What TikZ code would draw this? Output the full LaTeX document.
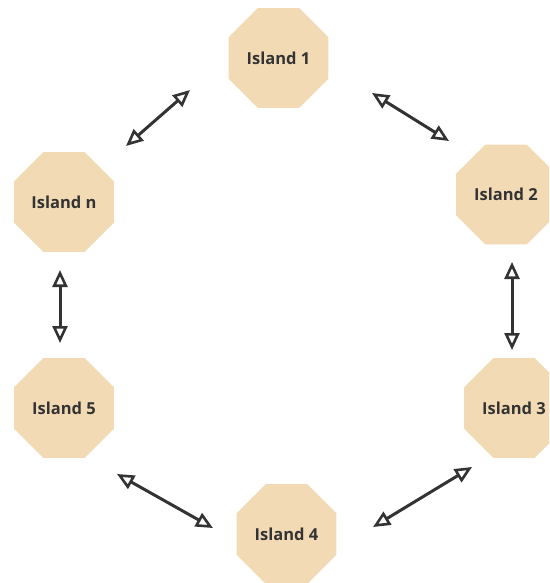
\documentclass[tikz,border=0pt]{standalone}
\usepackage{fontspec}
\setmainfont{Open Sans}
\usetikzlibrary{shapes.geometric,arrows.meta}
\definecolor{sand}{HTML}{F2DAB4}
\definecolor{ink}{HTML}{333333}
\begin{document}
\begin{tikzpicture}[x=1pt,y=-1pt,> = {Triangle[open,length=17pt,width=15pt,line width=2.6pt]},
		island/.style={regular polygon,regular polygon sides=8,minimum size=108pt,inner sep=0pt,
			fill=sand,text=ink,font=\fontsize{16.5}{19}\selectfont\bfseries},
		link/.style={<->,draw=ink,line width=3pt}]
		\useasboundingbox (0,0) rectangle (549,583);
		\clip (0,0) rectangle (549,583);
		\node[island] (i1) at (278.5,58) {Island 1};
		\node[island] (i2) at (506,194.5) {Island 2};
		\node[island] (i3) at (514,408) {Island 3};
		\node[island] (i4) at (286.5,534) {Island 4};
		\node[island] (i5) at (64,408) {Island 5};
		\node[island] (in) at (64,202) {Island n};
		\coordinate (a1) at (126,146);
		\coordinate (b1) at (190,90);
		\coordinate (a2) at (372,93);
		\coordinate (b2) at (449,141);
		\coordinate (a3) at (512,262);
		\coordinate (b3) at (512,350);
		\coordinate (a4) at (472,467);
		\coordinate (b4) at (373,527);
		\coordinate (a5) at (213,528);
		\coordinate (b5) at (117,474);
		\coordinate (a6) at (60,343);
		\coordinate (b6) at (60,270);
		\draw[link] (a1)--(b1);
		\draw[link] (a2)--(b2);
		\draw[link] (a3)--(b3);
		\draw[link] (a4)--(b4);
		\draw[link] (a5)--(b5);
		\draw[link] (a6)--(b6);
	\end{tikzpicture}
\end{document}
